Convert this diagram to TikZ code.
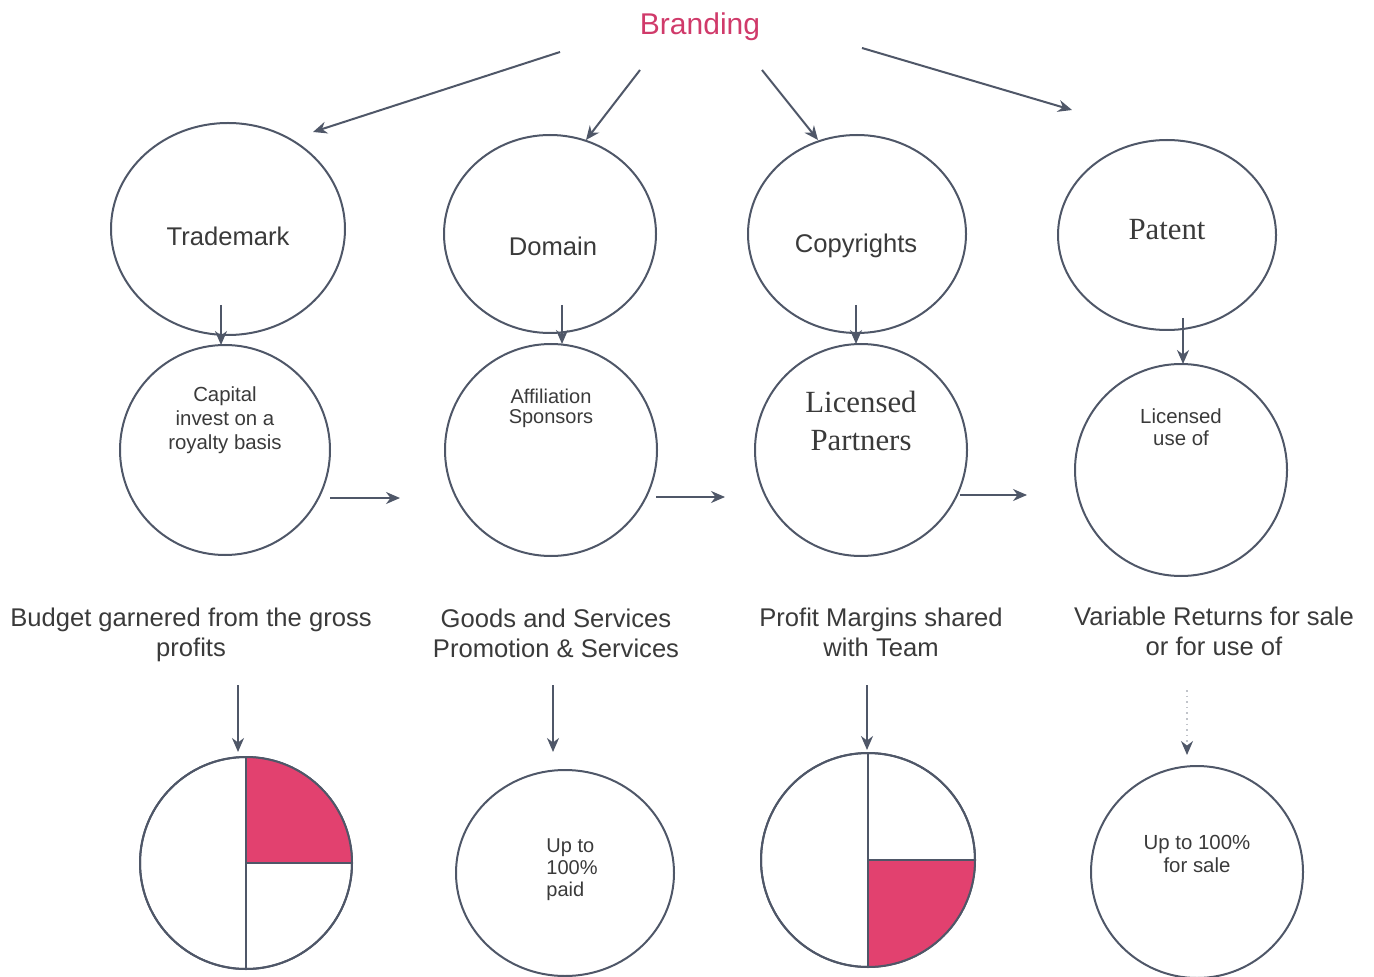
\documentclass[tikz,border=0pt]{standalone}
\usepackage{fontspec}
\setmainfont{Liberation Sans}
\newfontfamily\serifface{Liberation Serif}
\usetikzlibrary{shapes.geometric,arrows.meta}
\definecolor{linec}{HTML}{4F5768}
\definecolor{textc}{HTML}{3A3A3A}
\definecolor{pinkc}{HTML}{E2416F}
\definecolor{brandc}{HTML}{D03A6A}
\tikzset{
  oval/.style={ellipse, draw=linec, line width=1pt, inner sep=0pt, outer sep=0pt},
  disc/.style={circle, draw=linec, line width=1pt, inner sep=0pt, outer sep=0pt},
  arr/.style={draw=linec, line width=1pt, -{Stealth[length=7pt,width=6pt]}},
  faintarr/.style={draw=linec!35, line width=0.8pt, dotted, -{Stealth[length=7pt,width=6pt,color=linec]}},
  big/.style={text=textc, font=\fontsize{12.8}{15}\selectfont, align=center},
  small/.style={text=textc, font=\fontsize{10.2}{11.5}\selectfont, align=center},
  serifbig/.style={text=textc, font=\serifface\fontsize{15.4}{19}\selectfont, align=center},
}
\begin{document}
\begin{tikzpicture}[x=0.5pt,y=0.5pt]
\useasboundingbox (0,0) rectangle (1374,976);
% title
\node[text=brandc, font=\fontsize{15}{18}\selectfont] (brand) at (700,949) {Branding};
% row 1
\node[oval, minimum width=117pt, minimum height=106pt] (tm) at (228,747) {};
\node[big] (tmt) at (228,740) {Trademark};
\node[oval, minimum width=106pt, minimum height=99pt] (dm) at (550,742) {};
\node[big] (dmt) at (553,730) {Domain};
\node[oval, minimum width=109pt, minimum height=99pt] (cr) at (857,742) {};
\node[big] (crt) at (856,730) {Copyrights};
\node[oval, minimum width=109pt, minimum height=95pt] (pt) at (1167,741) {};
\node[serifbig] (ptt) at (1167,746) {Patent};
% row 2
\node[disc, minimum size=105pt] (cap) at (225,526) {};
\node[small, font=\fontsize{10.2}{12}\selectfont] (capt) at (225,556) {Capital\\invest on a\\royalty basis};
\node[disc, minimum size=106pt] (aff) at (551,526) {};
\node[small, font=\fontsize{10}{10}\selectfont] (afft) at (551,568) {Affiliation\\Sponsors};
\node[disc, minimum size=106pt] (lp) at (861,526) {};
\node[serifbig] (lpt) at (861,555) {Licensed\\Partners};
\node[disc, minimum size=106pt] (lu) at (1181,506) {};
\node[small, font=\fontsize{10.2}{11}\selectfont] (lut) at (1181,549) {Licensed\\use of};
% labels
\node[big] (l1) at (191,341) {Budget garnered from the gross\\profits};
\node[big] (l2) at (556,343) {Goods and Services\\Promotion \& Services};
\node[big] (l3) at (881,344) {Profit Margins shared\\with Team};
\node[big] (l4) at (1214,345) {Variable Returns for sale\\or for use of};
% bottom row
\node[disc, minimum size=106pt] (p1) at (246,113) {};
\fill[pinkc] (p1.center) -- (p1.north) arc[start angle=90, end angle=0, radius=106] -- cycle;
\draw[linec, line width=1pt] (p1.center) circle[radius=106];
\draw[linec, line width=1pt] (p1.north) -- (p1.south);
\draw[linec, line width=1pt] (p1.center) -- (p1.east);
\node[oval, minimum width=109pt, minimum height=103pt] (c2) at (565,103) {};
\node[small, align=left, font=\fontsize{10}{11}\selectfont] (c2t) at (572,106) {Up to\\100\%\\paid};
\node[disc, minimum size=107pt] (p3) at (868,116) {};
\fill[pinkc] (p3.center) -- (p3.east) arc[start angle=0, end angle=-90, radius=107] -- cycle;
\draw[linec, line width=1pt] (p3.center) circle[radius=107];
\draw[linec, line width=1pt] (p3.north) -- (p3.south);
\draw[linec, line width=1pt] (p3.center) -- (p3.east);
\node[disc, minimum size=106pt] (c4) at (1197,104) {};
\node[small, font=\fontsize{10.2}{11.5}\selectfont] (c4t) at (1197,122) {Up to 100\%\\for sale};
% top arrows
\coordinate (b1) at (560,924); \coordinate (e1) at (313,844);
\coordinate (b2) at (640,906); \coordinate (e2) at (586,836);
\coordinate (b3) at (762,906); \coordinate (e3) at (818,836);
\coordinate (b4) at (862,928); \coordinate (e4) at (1072,866);
\draw[arr] (b1) -- (e1);
\draw[arr] (b2) -- (e2);
\draw[arr] (b3) -- (e3);
\draw[arr] (b4) -- (e4);
% row1 -> row2
\coordinate (d1) at (221,671); \coordinate (d2) at (562,671);
\coordinate (d3) at (856,671); \coordinate (d4) at (1183,658);
\draw[arr] (d1) -- (d1 |- cap.north);
\draw[arr] (d2) -- (d2 |- aff.north);
\draw[arr] (d3) -- (d3 |- lp.north);
\draw[arr] (d4) -- (d4 |- lu.north);
% horizontal arrows
\coordinate (h1) at (330,478); \coordinate (h1e) at (400,478);
\coordinate (h2) at (656,479); \coordinate (h2e) at (725,479);
\coordinate (h3) at (960,481); \coordinate (h3e) at (1027,481);
\draw[arr] (h1) -- (h1e);
\draw[arr] (h2) -- (h2e);
\draw[arr] (h3) -- (h3e);
% labels -> bottom
\coordinate (u1) at (238,291); \coordinate (u2) at (553,291);
\coordinate (u3) at (867,291); \coordinate (u4) at (1187,286);
\draw[arr] (u1) -- (238,224);
\draw[arr] (u2) -- (553,224);
\draw[arr] (u3) -- (867,226);
\draw[faintarr] (u4) -- (1187,221);
\end{tikzpicture}
\end{document}
